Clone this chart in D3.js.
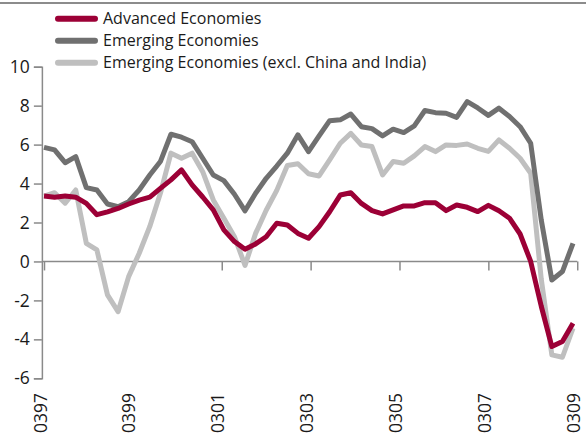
<!DOCTYPE html>
<html>
<head>
<meta charset="utf-8">
<script src="https://cdn.jsdelivr.net/npm/d3@7"></script>
<style>
  body { margin: 0; background: #fff; }
  text { font-family: "Open Sans", sans-serif; fill: #1a1a1a; }
</style>
</head>
<body>
<script>
// quarterly growth, 51 points
var advanced = [3.36, 3.3, 3.36, 3.3, 2.98, 2.4, 2.55, 2.72, 2.95, 3.15,
  3.3, 3.75, 4.19, 4.7, 3.93, 3.31, 2.65, 1.62, 1.02, 0.63,
  0.9, 1.27, 1.96, 1.87, 1.44, 1.19, 1.79, 2.55, 3.41, 3.53,
  2.98, 2.61, 2.44, 2.65, 2.85, 2.85, 3.02, 3.02, 2.61, 2.9,
  2.78, 2.56, 2.88, 2.6, 2.22, 1.41, 0.0, -2.3, -4.37, -4.11, -3.17];
var emerging = [5.86, 5.73, 5.07, 5.38, 3.79, 3.67, 2.95, 2.81, 3.07, 3.67,
  4.44, 5.13, 6.53, 6.38, 6.15, 5.3, 4.44, 4.15, 3.45, 2.6,
  3.5, 4.27, 4.9, 5.56, 6.5, 5.64, 6.45, 7.23, 7.27, 7.57,
  6.92, 6.82, 6.45, 6.79, 6.62, 6.96, 7.75, 7.64, 7.61, 7.4,
  8.21, 7.88, 7.5, 7.87, 7.44, 6.92, 6.07, 2.13, -0.95, -0.52, 0.93];
var emergingExcl = [3.36, 3.53, 2.99, 3.67, 0.93, 0.59, -1.72, -2.58, -0.78, 0.42,
  1.8, 3.5, 5.56, 5.3, 5.56, 4.61, 3.16, 2.22, 1.27, -0.2,
  1.44, 2.63, 3.65, 4.93, 5.02, 4.5, 4.39, 5.21, 6.07, 6.58,
  5.98, 5.9, 4.44, 5.13, 5.04, 5.42, 5.9, 5.64, 5.98, 5.96,
  6.03, 5.81, 5.65, 6.24, 5.81, 5.3, 4.53, -0.91, -4.8, -4.92, -3.43];

var seriesNames = ["Advanced Economies", "Emerging Economies", "Emerging Economies (excl. China and India)"];
var seriesColors = ["#9c0036", "#707070", "#bfbfbf"];
var tickLabels = ["0397", "0399", "0301", "0303", "0305", "0307", "0309"];
var yTicks = [-6, -4, -2, 0, 2, 4, 6, 8, 10];

var width = 586, height = 440;

var svg = d3.select("body").append("svg")
  .attr("width", width)
  .attr("height", height);

var x = d3.scaleLinear().domain([0, advanced.length - 1]).range([44, 573]);
var y = d3.scaleLinear().domain([-6, 10]).range([378.3, 66.7]);

// tick labels every 8.4 points
var tickPos = tickLabels.map(function(d, i) { return i * 8.4; });

// top rule
svg.append("line")
  .attr("x1", 0).attr("x2", width)
  .attr("y1", 3).attr("y2", 3)
  .attr("stroke", "#8c8c8c").attr("stroke-width", 2);

// y axis
var yAxis = d3.axisLeft(y).tickValues(yTicks).tickSize(8).tickPadding(4)
  .tickFormat(function(d) { return String(d); });
var gy = svg.append("g")
  .attr("transform", "translate(" + x(-0.2) + ",0)")
  .call(yAxis);
gy.selectAll("path, line").attr("stroke", "#8a8a8a").attr("stroke-width", 1.5);
gy.selectAll("text").style("font-size", "17.5px").style("font-family", "Open Sans, sans-serif").attr("fill", "#1a1a1a");

// zero line with ticks
svg.append("line")
  .attr("x1", x(-0.2)).attr("x2", x(50.4))
  .attr("y1", y(0)).attr("y2", y(0))
  .attr("stroke", "#8a8a8a").attr("stroke-width", 1.5);
var xTickAxis = d3.axisBottom(x).tickValues(tickPos).tickSize(9).tickFormat("");
var gx = svg.append("g")
  .attr("transform", "translate(0," + y(0) + ")")
  .call(xTickAxis);
gx.select(".domain").remove();
gx.selectAll("line").attr("stroke", "#8a8a8a").attr("stroke-width", 1.5);

// rotated labels at the bottom
var xLabelAxis = d3.axisBottom(x).tickValues(tickPos).tickSize(0)
  .tickFormat(function(d, i) { return tickLabels[i]; });
var gl = svg.append("g")
  .attr("transform", "translate(0,390)")
  .call(xLabelAxis);
gl.select(".domain").remove();
gl.selectAll("text")
  .attr("transform", "rotate(-90)")
  .attr("x", -3).attr("y", -4).attr("dy", "0.35em")
  .style("text-anchor", "end")
  .style("font-size", "17.5px")
  .style("font-family", "Open Sans, sans-serif")
  .attr("fill", "#1a1a1a");

// lines, red on top
var line = d3.line()
  .x(function(d, i) { return x(i); })
  .y(function(d) { return y(d); });

var allSeries = [advanced, emerging, emergingExcl];
[2, 1, 0].forEach(function(k) {
  svg.append("path")
    .datum(allSeries[k])
    .attr("fill", "none")
    .attr("stroke", seriesColors[k])
    .attr("stroke-width", 5)
    .attr("stroke-linejoin", "round")
    .attr("d", line);
});

// legend
var legend = svg.append("g");
seriesNames.forEach(function(name, k) {
  var ly = 18.7 + k * 22;
  legend.append("line")
    .attr("x1", 58).attr("x2", 95)
    .attr("y1", ly).attr("y2", ly)
    .attr("stroke", seriesColors[k])
    .attr("stroke-width", 6)
    .attr("stroke-linecap", "round");
  legend.append("text")
    .attr("x", 103).attr("y", ly)
    .attr("dy", "0.35em")
    .style("font-size", "16px")
    .text(name);
});
</script>
</body>
</html>
